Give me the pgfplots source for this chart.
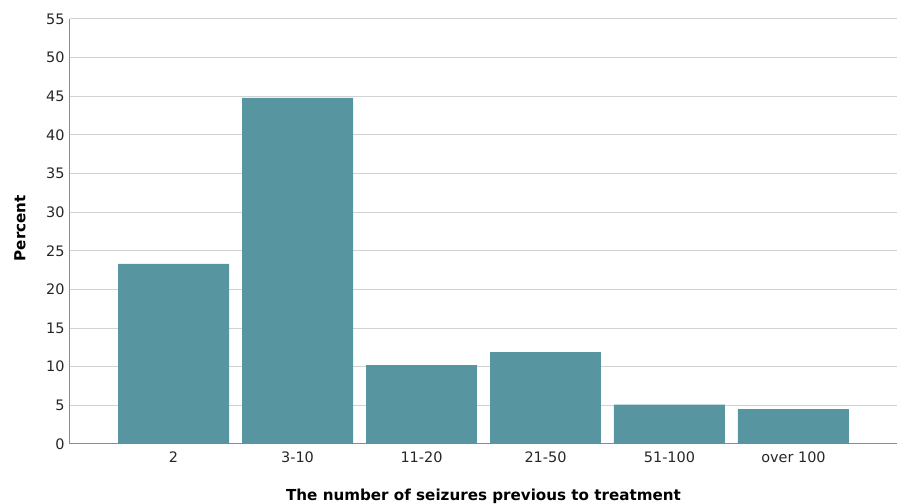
\documentclass[border=0pt]{standalone}
\usepackage{pgfplots}
\pgfplotsset{compat=1.18}
\usepackage{fontspec}
\setmainfont{DejaVu Sans}
\definecolor{barc}{RGB}{87,150,160}
\definecolor{gridc}{RGB}{210,210,210}
\definecolor{axc}{RGB}{140,140,140}
\begin{document}
\begin{tikzpicture}
\begin{axis}[
  name=ax, scale only axis, width=827bp, height=425bp,
  xmin=-0.835, xmax=5.835, ymin=0, ymax=55,
  ytick={0,5,...,55},
  xtick=data,
  xticklabels={2,3-10,11-20,21-50,51-100,over 100},
  axis x line*=bottom, axis y line*=left,
  axis line style={axc, line width=1bp, -},
  ymajorgrids, grid style={gridc, line width=1bp},
  major tick length=0pt,
  /pgf/number format/assume math mode=true,
  ticklabel style={font=\fontsize{14.5}{16}\selectfont, text=black!85},
  yticklabel style={xshift=-2bp},
  xticklabel style={yshift=-4bp},
  ylabel={\textbf{Percent}},
  xlabel={\textbf{The number of seizures previous to treatment}},
  label style={font=\fontsize{15.2}{17}\selectfont},
  ylabel style={at={(axis description cs:-0.0605,0.508)}, anchor=center},
  xlabel style={at={(axis description cs:0.5,-0.122)}, anchor=center},
  ybar, bar width=0.895,
  clip=false,
]
\addplot[fill=barc, draw=none] coordinates {(0,23.3) (1,44.8) (2,10.2) (3,11.9) (4,5.1) (5,4.5)};
\end{axis}
\pgfresetboundingbox
\path (ax.south west) ++(-70bp,-60bp) rectangle ([shift={(1bp,19bp)}]ax.north east);
\end{tikzpicture}
\end{document}
